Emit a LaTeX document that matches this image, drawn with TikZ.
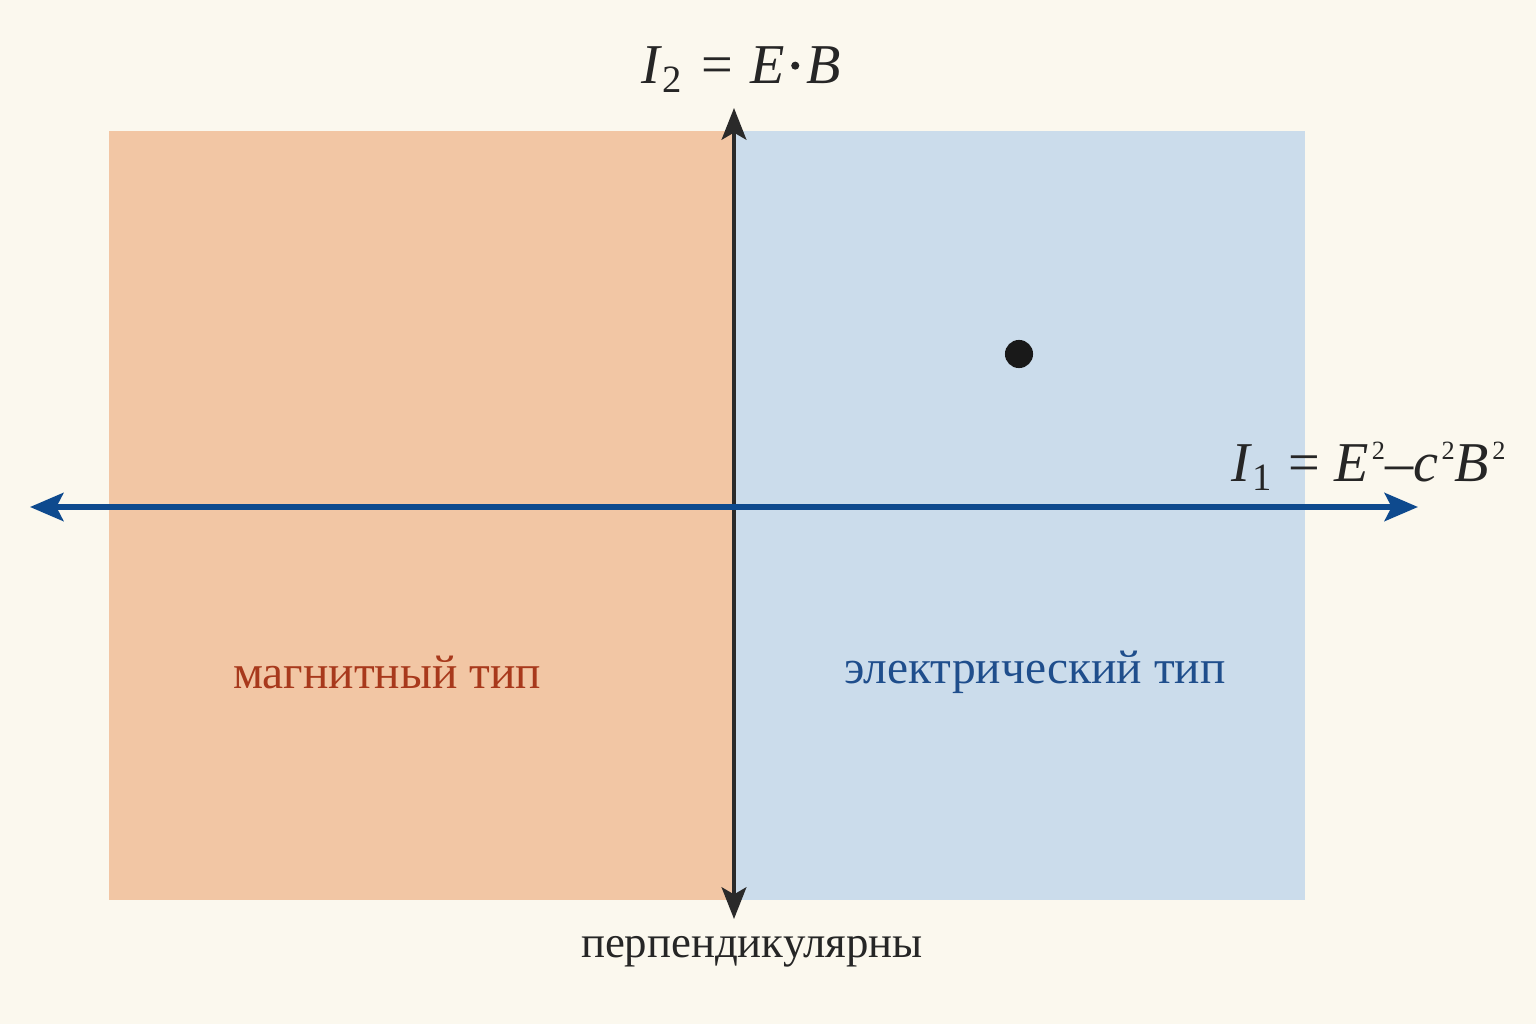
\documentclass[tikz,border=0pt]{standalone}
\usepackage{fontspec}
\setmainfont{Liberation Serif}
\usetikzlibrary{arrows.meta}
\definecolor{bgc}{HTML}{FBF8EE}
\definecolor{magc}{HTML}{F2C6A4}
\definecolor{elc}{HTML}{CBDCEB}
\definecolor{axblue}{HTML}{0E4A8E}
\definecolor{axdark}{HTML}{2A2A2A}
\definecolor{magtext}{HTML}{A8391C}
\definecolor{eltext}{HTML}{1F4E8C}
\newcommand{\subnum}[1]{\raisebox{-0.35ex}{\fontsize{22}{24}\selectfont #1}}
\newcommand{\supnum}[1]{\hspace{0.06em}\raisebox{0.85ex}{\fontsize{15}{18}\selectfont #1}}
\newcommand{\mydot}{\hspace{0.12em}\raisebox{0.55ex}{\tikz\fill (0,0) circle (2.3pt);}\hspace{0.12em}}
\tikzset{
  axisv/.style={draw=axdark, line width=2.4pt, {Stealth[length=18pt,width=14pt,inset=4pt]}-{Stealth[length=18pt,width=14pt,inset=4pt]}},
  axish/.style={draw=axblue, line width=3.2pt, {Stealth[length=19pt,width=16pt,inset=4pt]}-{Stealth[length=19pt,width=16pt,inset=4pt]}},
  formula/.style={font=\fontsize{32}{36}\selectfont, text=black!85, inner sep=0pt},
  lbl/.style={font=\fontsize{27}{32}\selectfont, inner sep=0pt}
}
\begin{document}
\begin{tikzpicture}[x=0.02cm,y=-0.02cm]
\fill[bgc] (0,0) rectangle (1536,1024);
\useasboundingbox (0,0) rectangle (1536,1024);
\fill[magc] (109,131) rectangle (734,900);
\fill[elc] (734,131) rectangle (1305,900);
\coordinate (vtop) at (734,108);
\coordinate (vbot) at (734,919);
\coordinate (hleft) at (30,507);
\coordinate (hright) at (1418,507);
\draw[axisv] (vbot) -- (vtop);
\draw[axish] (hleft) -- (hright);
\node[circle, fill=black!90, inner sep=0pt, minimum size=16pt] (pt) at (1019,354) {};
\node[formula] (i2) at (741,70) {\textit{I}\subnum{2}\hspace{0.35em}=\hspace{0.3em}\textit{E}\mydot\textit{B}};
\node[formula, anchor=east] (i1) at (1506,466) {\textit{I}\subnum{1}\hspace{0.3em}=\hspace{0.25em}\textit{E}\supnum{2}–\textit{c}\supnum{2}\textit{B}\supnum{2}};
\node[lbl, text=magtext] (magl) at (387,672) {магнитный тип};
\node[lbl, text=eltext] (ell) at (1035,672) {электрический тип};
\node[lbl, font=\fontsize{25.5}{30}\selectfont, text=black!85] (perp) at (752,952) {перпендикулярны};
\end{tikzpicture}
\end{document}
